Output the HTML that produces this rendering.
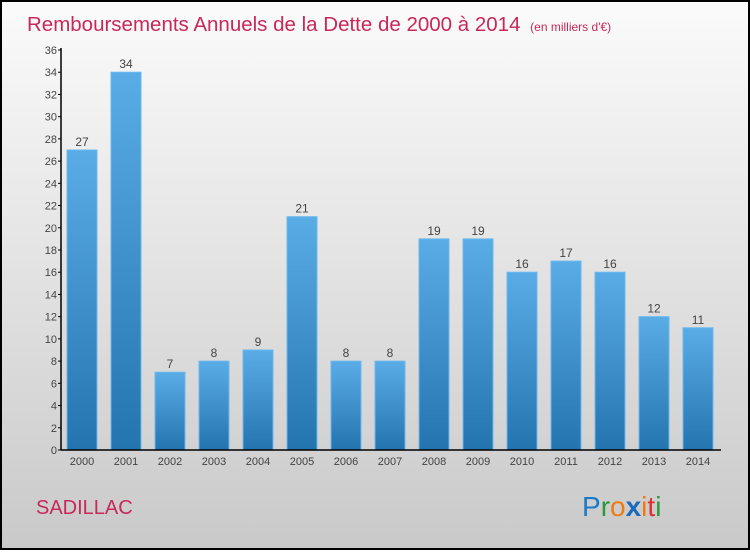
<!DOCTYPE html>
<html><head><meta charset="utf-8"><style>
body{margin:0;width:750px;height:550px;overflow:hidden;font-family:"Liberation Sans",sans-serif}
</style></head><body>
<svg id="c" width="750" height="550" xmlns="http://www.w3.org/2000/svg">
<defs>
<linearGradient id="bg" x1="0" y1="0" x2="0" y2="1"><stop offset="0" stop-color="#fbfbfb"/><stop offset="1" stop-color="#c9c9c9"/></linearGradient>
<linearGradient id="bar" x1="0" y1="0" x2="0" y2="1"><stop offset="0" stop-color="#5aace6"/><stop offset="1" stop-color="#2474b0"/></linearGradient>
</defs>
<rect x="1" y="1" width="748" height="548" fill="url(#bg)" stroke="#000" stroke-width="2"/>
<text x="27" y="31" font-size="20.5" fill="#c8285a">Remboursements Annuels de la Dette de 2000 à 2014 <tspan font-size="12" dx="4">(en milliers d'€)</tspan></text>
<text x="36" y="514" font-size="20" fill="#c8285a">SADILLAC</text>
<text x="582" y="516" font-size="28" font-family="Liberation Sans, sans-serif"><tspan fill="#1a7ac8">P</tspan><tspan fill="#2a9a3a">r</tspan><tspan fill="#f07a10">o</tspan><tspan fill="#1a6ac0" font-weight="bold">x</tspan><tspan fill="#f07a10">i</tspan><tspan fill="#e03030">t</tspan><tspan fill="#2a9a3a">i</tspan></text>
<g id="plot"></g>
</svg>
<script>
const years=["2000","2001","2002","2003","2004","2005","2006","2007","2008","2009","2010","2011","2012","2013","2014"];
const values=[27,34,7,8,9,21,8,8,19,19,16,17,16,12,11];
const yTicks=[0,2,4,6,8,10,12,14,16,18,20,22,24,26,28,30,32,34,36];
const NS="http://www.w3.org/2000/svg";
const g=document.getElementById('plot');
const x0=61,x1=721,yb=450,yt=50,yMax=36;
const step=44;
const y=v=>yb-(v/yMax)*(yb-yt);
const xc=i=>x0+21+i*step;
function mk(t,a){const e=document.createElementNS(NS,t);for(const k in a)e.setAttribute(k,a[k]);g.appendChild(e);return e;}
yTicks.forEach(t=>{
  const l=mk('line',{x1:x0-3,x2:x0,y1:y(t),y2:y(t),stroke:'#000'});
  
  
  const tx=mk('text',{x:x0-4,y:y(t)+4,'font-size':11,fill:'#444','text-anchor':'end'});
  tx.textContent=t;
  
  
});
values.forEach((v,i)=>{
  const r=mk('rect',{x:xc(i)-15,y:y(v),width:30,height:yb-y(v),fill:'url(#bar)',stroke:'#6bb8ee','stroke-width':1});
  
  
  const t=mk('text',{x:xc(i),y:y(v)-4,'font-size':12,fill:'#444','text-anchor':'middle'});
  t.textContent=v;
  
  
  const xl=mk('text',{x:xc(i),y:yb+15,'font-size':11,fill:'#444','text-anchor':'middle'});
  xl.textContent=years[i];
  
  
});
const ya=mk('line',{x1:x0,x2:x0,y1:yt-2,y2:yb,stroke:'#000','stroke-width':1.5});


const xa=mk('line',{x1:x0,x2:x1,y1:yb,y2:yb,stroke:'#000','stroke-width':1.5});


</script>
</body></html>
